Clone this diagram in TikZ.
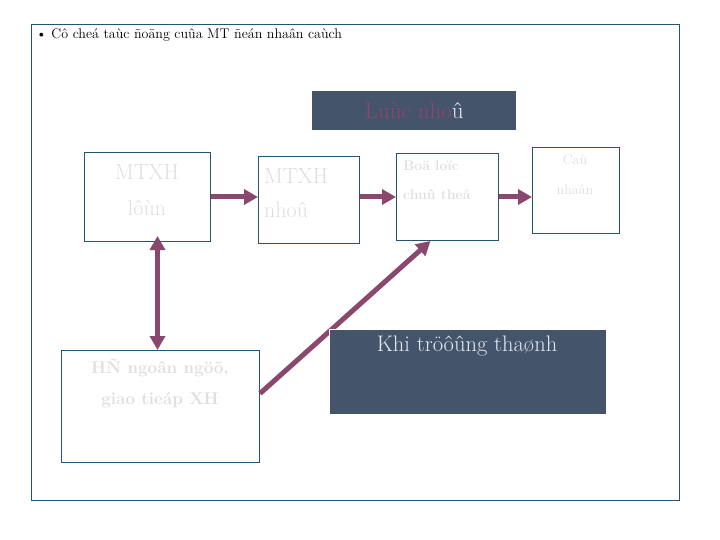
\documentclass[tikz,border=0pt]{standalone}
\usetikzlibrary{arrows.meta,positioning}
\definecolor{frameblue}{RGB}{35,85,115}
\definecolor{slate}{RGB}{68,84,106}
\definecolor{plum}{RGB}{139,72,110}
\definecolor{palegray}{RGB}{222,222,226}
\definecolor{lightlav}{RGB}{228,232,245}

\begin{document}
\begin{tikzpicture}[x=1pt,y=-1pt,
  box/.style={draw=frameblue, line width=1pt, anchor=north west, inner sep=0pt},
  darkbox/.style={fill=slate, anchor=north west, inner sep=0pt},
  link/.style={draw=plum, line width=5pt, -{Triangle[length=14pt,width=15pt]}},
  pale/.style={text=palegray, inner sep=0pt}]
\useasboundingbox (0,0) rectangle (720,540);
\node[box, minimum width=648, minimum height=476] (frame) at (31,24) {};
\node[anchor=west, inner sep=0pt, font=\fontsize{14}{16}\selectfont] (title) at (36,35)
  {\textbullet\ Cô cheá taùc ñoäng cuûa MT ñeán nhaân caùch};

% boxes
\node[darkbox, minimum width=204, minimum height=39] (luc) at (312,91) {};
\node[font=\fontsize{23}{26}\selectfont, inner sep=0pt] (luctext) at (luc.center)
  {\textcolor{plum}{Luùc nho}\textcolor{lightlav}{û}};
\node[box, minimum width=126, minimum height=89] (lon) at (84,152) {};
\node[box, minimum width=101, minimum height=87] (nho) at (258,156) {};
\node[box, minimum width=102, minimum height=87] (boloc) at (396,153) {};
\node[box, minimum width=87, minimum height=86] (canhan) at (532,147) {};
\node[box, minimum width=198, minimum height=112] (hd) at (61,350) {};

% texts
\node[pale, font=\fontsize{22}{26}\selectfont] (lon1) at (147,172) {MTXH};
\node[pale, font=\fontsize{22}{26}\selectfont] (lon2) at (147,208) {lôùn};
\node[pale, anchor=west, font=\fontsize{22}{26}\selectfont] (nho1) at (264,176) {MTXH};
\node[pale, anchor=west, font=\fontsize{22}{26}\selectfont] (nho2) at (264,210) {nhoû};
\node[pale, anchor=west, font=\bfseries\fontsize{14}{16}\selectfont] (boloc1) at (403,166) {Boä loïc};
\node[pale, anchor=west, font=\bfseries\fontsize{14}{16}\selectfont] (boloc2) at (403,195) {chuû theå};
\node[pale, font=\fontsize{14}{16}\selectfont] (canhan1) at (575,160) {Caù};
\node[pale, font=\fontsize{14}{16}\selectfont] (canhan2) at (575,190) {nhaân};
\node[pale, font=\bfseries\fontsize{17}{20}\selectfont] (hd1) at (160,368) {HÑ ngoân ngöõ,};
\node[pale, font=\bfseries\fontsize{17}{20}\selectfont] (hd2) at (160,400) {giao tieáp XH};

% arrows
\draw[link] (lon.east) -- (lon.east -| nho.west);
\draw[link] (boloc.west -| nho.east) -- (boloc.west);
\draw[link] (boloc.east) -- (boloc.east -| canhan.west);
\draw[link, {Triangle[length=14pt,width=15pt]}-{Triangle[length=14pt,width=15pt]}, shorten <=-6pt]
  ([xshift=10pt]lon.south) -- ([xshift=-3pt]hd.north);
\draw[link] ([yshift=13pt]hd.east) -- ([xshift=-17pt]boloc.south);

\node[darkbox, draw=white, line width=1pt, minimum width=277, minimum height=85] (khi) at (329,329) {};
\node[text=lightlav, inner sep=0pt, font=\fontsize{22.5}{26}\selectfont] (khitext) at (467,346) {Khi tröôûng thaønh};
\end{tikzpicture}
\end{document}
